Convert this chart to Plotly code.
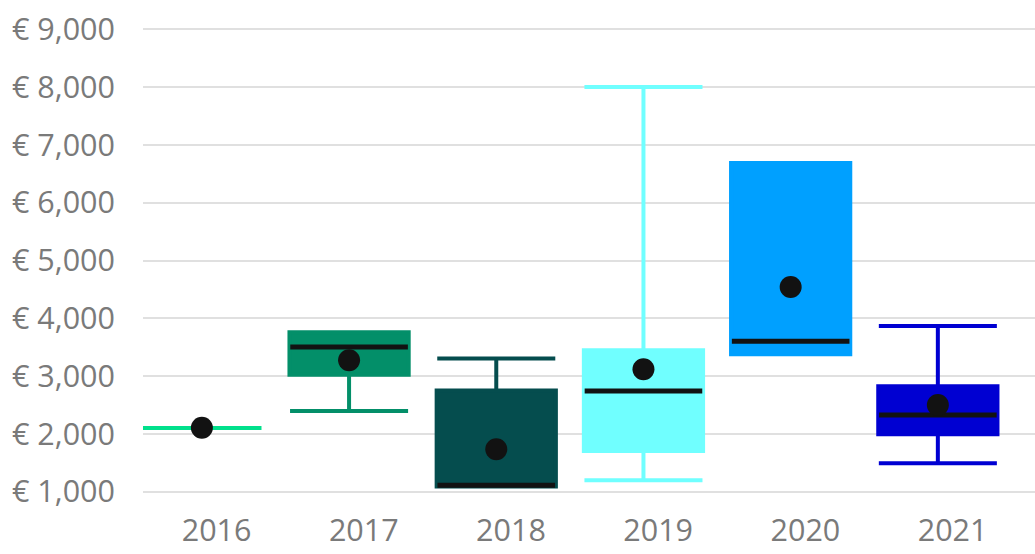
import plotly.graph_objects as go

# ---- data ----
years = ["2016", "2017", "2018", "2019", "2020", "2021"]
q1 = [2100, 3025, 1090, 1705, 3380, 1995]
median = [2100, 3505, 1110, 2740, 3605, 2325]
q3 = [2100, 3760, 2750, 3445, 6685, 2825]
lower = [2100, 2395, 1090, 1200, 3380, 1490]
upper = [2100, 3760, 3305, 8000, 6685, 3865]
mean = [2105, 3275, 1735, 3120, 4540, 2500]
colors = ["#01E08C", "#038F69", "#054D4E", "#70FFFF", "#00A0FF", "#0000D2"]
y_ticks = [1000, 2000, 3000, 4000, 5000, 6000, 7000, 8000, 9000]
y_ticktext = [f"€ {v:,}" for v in y_ticks]

OFFSET = -0.1  # boxes sit slightly left of the category label
pos = [i + OFFSET for i in range(len(years))]

fig = go.Figure()

for i, yr in enumerate(years):
    fig.add_trace(go.Box(
        x=[pos[i]], q1=[q1[i]], median=[median[i]], q3=[q3[i]],
        lowerfence=[lower[i]], upperfence=[upper[i]],
        width=0.81, whiskerwidth=0.99,
        fillcolor=colors[i],
        line=dict(color=colors[i], width=4),
        boxpoints=False, name=yr, showlegend=False,
    ))

# black median bars (not drawn where the box has no height)
mx = [p for p, a, b in zip(pos, q1, q3) if a != b]
my = [m for m, a, b in zip(median, q1, q3) if a != b]
fig.add_trace(go.Scatter(
    x=mx, y=my, mode="markers", showlegend=False, hoverinfo="skip",
    marker=dict(symbol="line-ew", size=84, color="#121212",
                line=dict(width=5, color="#121212")),
    cliponaxis=False,
))

# mean dots
fig.add_trace(go.Scatter(
    x=pos, y=mean, mode="markers", showlegend=False,
    marker=dict(symbol="circle", size=22, color="#121212"),
    cliponaxis=False,
))

fig.update_layout(
    width=1035, height=554,
    margin=dict(l=143, r=0, t=27, b=60),
    paper_bgcolor="white", plot_bgcolor="white",
    font=dict(family="Open Sans, Noto Sans, sans-serif", size=30.5, color="#7A7A7A"),
    boxmode="overlay",
    xaxis=dict(
        range=[-0.5, 5.56], automargin=False,
        tickmode="array", tickvals=list(range(len(years))), ticktext=years,
        showgrid=False, zeroline=False, showline=False, ticks="",
        ticklabelstandoff=15,
    ),
    yaxis=dict(
        range=[960, 9040], automargin=False,
        tickmode="array", tickvals=y_ticks, ticktext=y_ticktext,
        showgrid=True, gridcolor="#E0E0E0", gridwidth=2,
        zeroline=False, showline=False, ticks="",
        ticklabelstandoff=27,
    ),
)

fig.write_html("out.html", config={"displayModeBar": False},
               post_script="document.body.style.margin='0';")
